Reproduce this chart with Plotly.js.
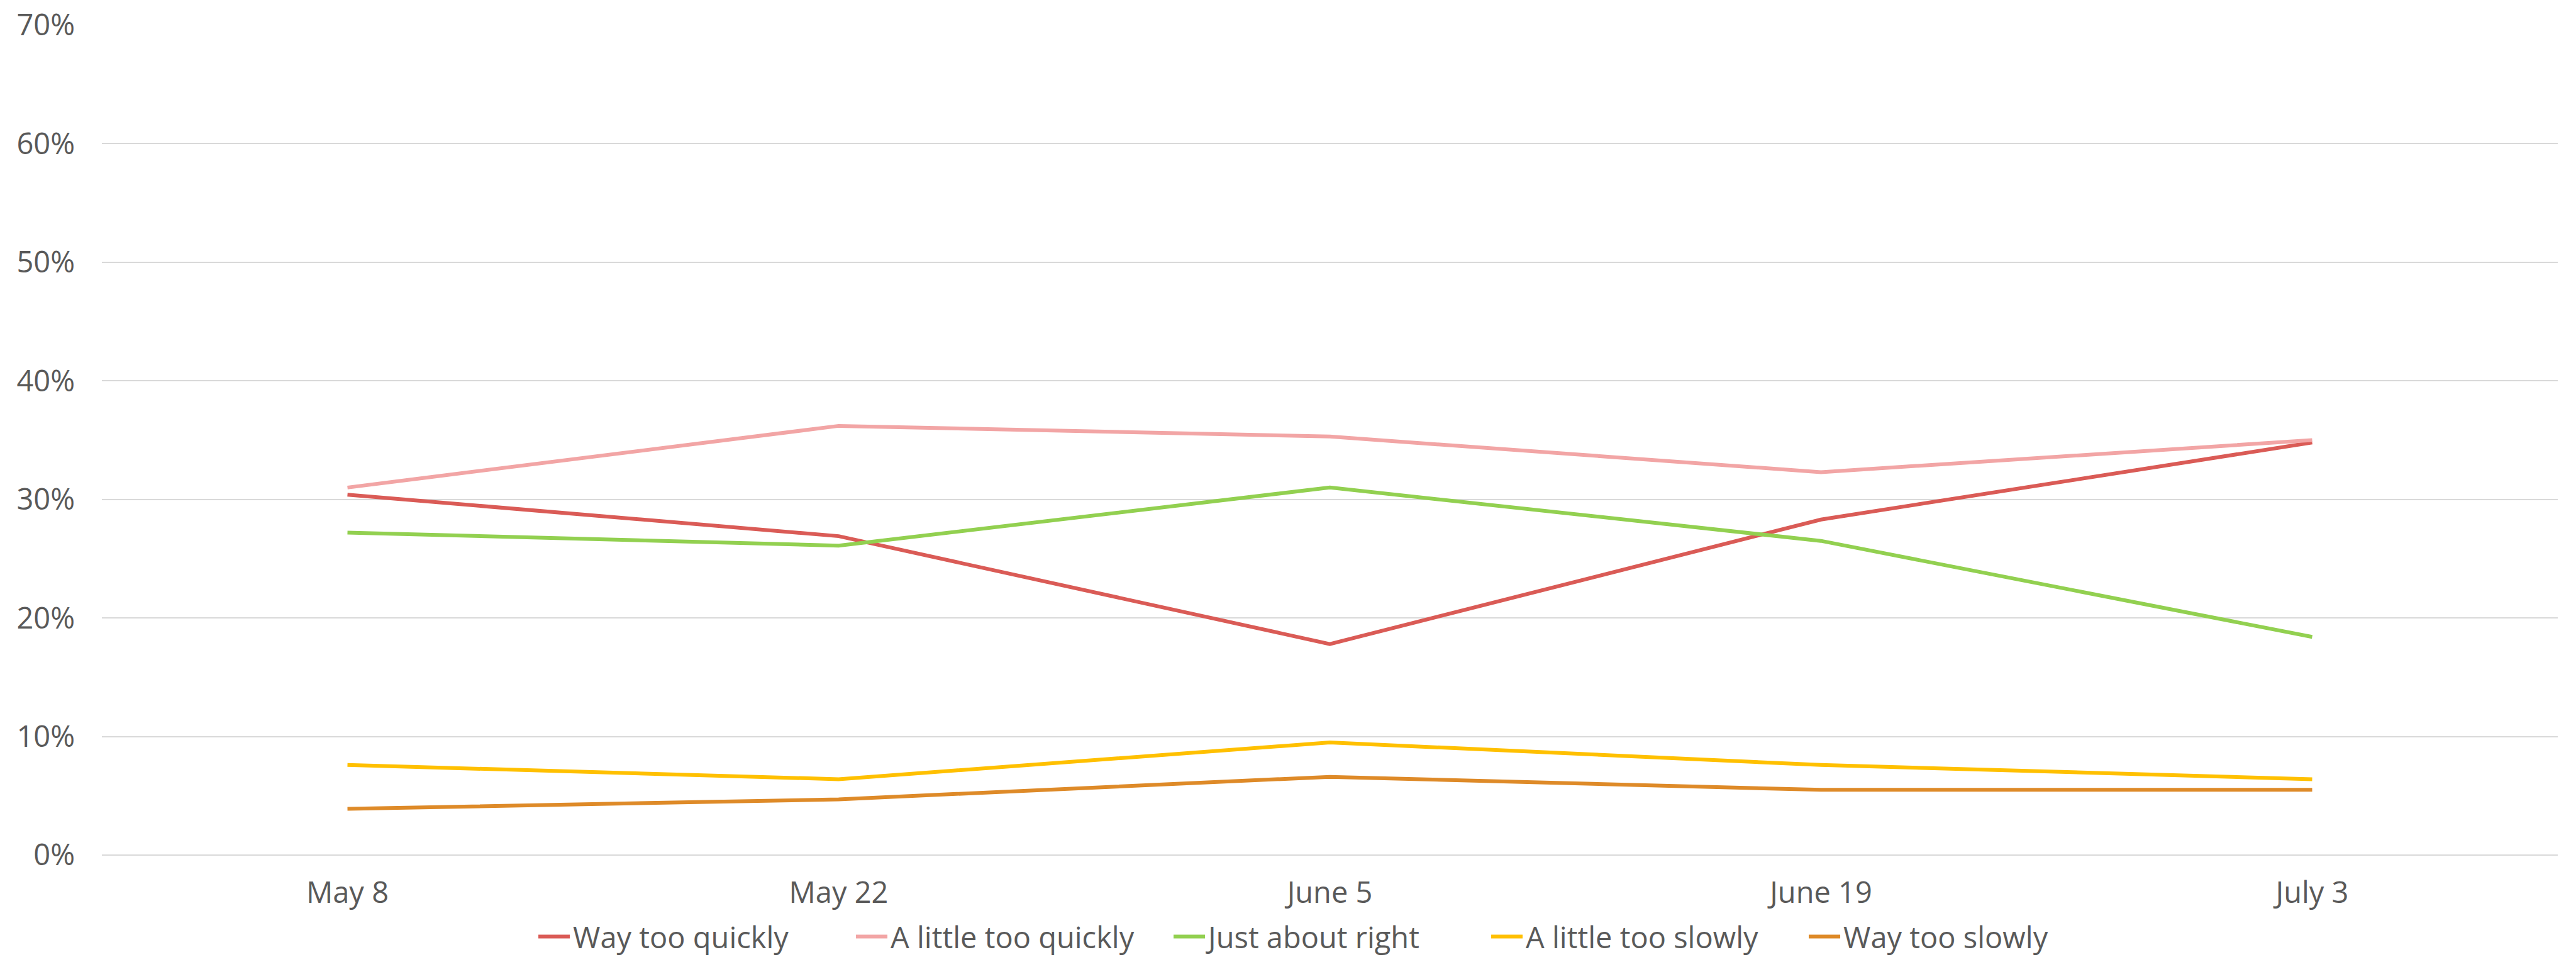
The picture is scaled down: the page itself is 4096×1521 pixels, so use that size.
<!DOCTYPE html>
<html>
<head>
<meta charset="utf-8">
<script src="https://cdn.plot.ly/plotly-3.0.1.min.js"></script>
<style>
  html, body { margin: 0; padding: 0; background: #ffffff; }
  #chart { width: 4096px; height: 1521px; }
</style>
</head>
<body>
<div id="chart"></div>
<script>
// Survey waves
const surveyDates = ['May 8', 'May 22', 'June 5', 'June 19', 'July 3'];

// Share of respondents per answer (percent)
const wayTooQuickly    = [30.4, 26.9, 17.8, 28.3, 34.8];
const littleTooQuickly = [31.0, 36.2, 35.3, 32.3, 35.0];
const justAboutRight   = [27.2, 26.1, 31.0, 26.5, 18.4];
const littleTooSlowly  = [7.6, 6.4, 9.5, 7.6, 6.4];
const wayTooSlowly     = [3.9, 4.7, 6.6, 5.5, 5.5];

const seriesNames = ['Way too quickly', 'A little too quickly', 'Just about right', 'A little too slowly', 'Way too slowly'];
const seriesValues = [wayTooQuickly, littleTooQuickly, justAboutRight, littleTooSlowly, wayTooSlowly];
const seriesColors = ['#DA5B56', '#F2A5A5', '#92D050', '#FFC000', '#DE8A28'];

const yTicks = [0, 10, 20, 30, 40, 50, 60, 70];

const FONT = '"Open Sans", "DejaVu Sans", sans-serif';
const TEXT_COLOR = '#595959';
const GRID_COLOR = '#D9D9D9';

const traces = seriesNames.map((name, i) => ({
  type: 'scatter',
  mode: 'lines',
  name: name,
  x: surveyDates,
  y: seriesValues[i],
  line: { color: seriesColors[i], width: 6 },
  hoverinfo: 'skip'
}));

const layout = {
  width: 4096,
  height: 1521,
  paper_bgcolor: '#ffffff',
  plot_bgcolor: '#ffffff',
  margin: { l: 162, r: 29, t: 40, b: 162 },
  font: { family: FONT, size: 47, color: TEXT_COLOR },
  showlegend: true,
  xaxis: {
    type: 'category',
    categoryorder: 'array',
    categoryarray: surveyDates,
    range: [-0.5, surveyDates.length - 0.5],
    showgrid: false,
    showline: false,
    zeroline: false,
    ticks: '',
    ticklabelstandoff: 28,
    tickfont: { family: FONT, size: 47, color: TEXT_COLOR }
  },
  yaxis: {
    range: [0, 70],
    tickvals: yTicks,
    ticktext: yTicks.map(v => v + '%'),
    showgrid: true,
    gridcolor: GRID_COLOR,
    gridwidth: 2,
    zeroline: true,
    zerolinecolor: GRID_COLOR,
    zerolinewidth: 2,
    showline: false,
    ticks: '',
    ticklabelstandoff: 42,
    tickfont: { family: FONT, size: 47, color: TEXT_COLOR }
  },
  legend: {
    orientation: 'h',
    xref: 'container',
    yref: 'container',
    x: 0.516,
    xanchor: 'center',
    y: 0.021,
    yanchor: 'middle',
    entrywidth: 440,
    entrywidthmode: 'pixels',
    itemwidth: 50,
    font: { family: FONT, size: 47, color: TEXT_COLOR },
    bgcolor: 'rgba(0,0,0,0)',
    itemclick: false,
    itemdoubleclick: false,
    traceorder: 'normal'
  }
};

Plotly.newPlot('chart', traces, layout, { displayModeBar: false, staticPlot: true });
</script>
</body>
</html>
